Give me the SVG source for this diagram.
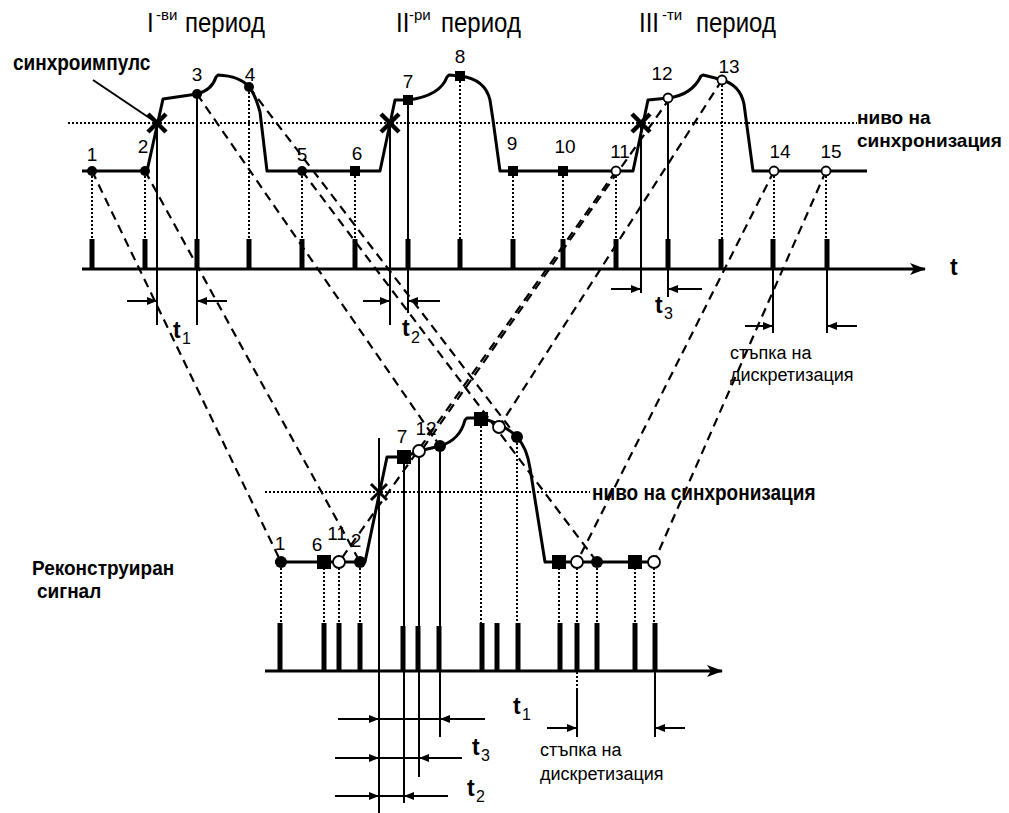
<svg xmlns="http://www.w3.org/2000/svg" width="1009" height="813" viewBox="0 0 1009 813">
<defs>
<style>
text{font-family:"Liberation Sans",Arial,sans-serif;fill:#000}
.num{font-size:19px;text-anchor:middle}
.title{font-size:24px}
.sup{font-size:15px}
.bl{font-size:19px;font-weight:bold}
.tt{font-size:23px;font-weight:bold}
.sub{font-size:16px}
.step{font-size:18px}
.sig{fill:none;stroke:#000;stroke-width:3;stroke-linejoin:round}
.dash{fill:none;stroke:#000;stroke-width:2.2;stroke-dasharray:9 6}
.dot{fill:none;stroke:#000;stroke-width:2;stroke-dasharray:2 2}
.thin{fill:none;stroke:#000;stroke-width:2}
.arr{fill:none;stroke:#000;stroke-width:2;marker-end:url(#ah)}
.pulse{stroke:#000;stroke-width:5}
.axis{stroke:#000;stroke-width:3;fill:none;marker-end:url(#ax)}
.xm{stroke:#000;stroke-width:4.5;fill:none}
.xb{stroke:#000;stroke-width:3;fill:none}
.fc{fill:#000}
.oc{fill:#fff;stroke:#000;stroke-width:1.8}
</style>
<marker id="ah" viewBox="0 0 10 8" refX="10" refY="4" markerWidth="10" markerHeight="8" markerUnits="userSpaceOnUse" orient="auto"><path d="M0,0 L10,4 L0,8 z" fill="#000"/></marker>
<marker id="ax" viewBox="0 0 16 12" refX="15" refY="6" markerWidth="16" markerHeight="12" markerUnits="userSpaceOnUse" orient="auto"><path d="M0,0 L16,6 L0,12 L4,6 z" fill="#000"/></marker>
</defs>
<rect width="1009" height="813" fill="#fff"/>

<g id="titles">
<text class="title" transform="translate(147,32) scale(1,1.15)">I</text><text class="sup" x="156" y="20">-ви</text><text class="title" transform="translate(185,32) scale(1,1.15)">период</text>
<text class="title" transform="translate(396,32) scale(1,1.15)">II</text><text class="sup" x="409" y="20">-ри</text><text class="title" transform="translate(441,32) scale(1,1.15)">период</text>
<text class="title" transform="translate(639,32) scale(1,1.15)">III</text><text class="sup" x="662" y="20">-ти</text><text class="title" transform="translate(696,32) scale(1,1.15)">период</text>
</g>

<g id="sync-label">
<text class="bl" transform="translate(13,70) scale(1,1.2)">синхроимпулс</text>
<line class="thin" x1="93" y1="80" x2="151" y2="119"/>
</g>

<g id="top-level">
<line class="dot" x1="68" y1="123" x2="857" y2="123"/>
<text class="bl" x="857" y="124">ниво на</text>
<text class="bl" x="857" y="147">синхронизация</text>
</g>

<g id="connectors">
<line class="dash" x1="92" y1="171" x2="281" y2="562"/>
<line class="dash" x1="145" y1="171" x2="360" y2="562"/>
<line class="dash" x1="197" y1="94" x2="440" y2="446"/>
<line class="dash" x1="249" y1="87" x2="517" y2="437"/>
<line class="dash" x1="302" y1="171" x2="597" y2="562"/>
<line class="dash" x1="616" y1="171" x2="339" y2="562"/>
<line class="dash" x1="670" y1="98" x2="421" y2="451"/>
<line class="dash" x1="722" y1="80" x2="499" y2="427"/>
<line class="dash" x1="774" y1="171" x2="577" y2="562"/>
<line class="dash" x1="826" y1="171" x2="654" y2="562"/>
</g>

<g id="top-signal">
<path class="sig" d="M82,171 H147 L163,99 L197,94 Q212,90 216,77 L218,75 Q240,76 249,87 Q255,94 260,112 L267,171 H380 L395,100 H408 Q440,96 447,77 L449,75 L460,76 Q485,79 490,100 L493,120 L500,171 H633 L648,100 L668,98 Q692,95 701,76 L703,75 Q712,77 722,80 Q740,85 744,104 L753,171 H867"/>
<path class="xm" d="M148,114 L166,132 M148,132 L166,114"/>
<path class="xm" d="M381,114 L399,132 M381,132 L399,114"/>
<path class="xm" d="M632,114 L650,132 M632,132 L650,114"/>
</g>

<g id="top-samples">
<g class="dot">
<line x1="92" y1="176" x2="92" y2="239"/>
<line x1="145" y1="176" x2="145" y2="239"/>
<line x1="249" y1="92" x2="249" y2="239"/>
<line x1="302" y1="176" x2="302" y2="239"/>
<line x1="355" y1="176" x2="355" y2="239"/>
<line x1="460" y1="81" x2="460" y2="239"/>
<line x1="513" y1="176" x2="513" y2="239"/>
<line x1="563" y1="176" x2="563" y2="239"/>
<line x1="616" y1="176" x2="616" y2="239"/>
<line x1="722" y1="85" x2="722" y2="239"/>
<line x1="774" y1="176" x2="774" y2="239"/>
<line x1="826" y1="176" x2="826" y2="239"/>
</g>
<g class="pulse">
<line x1="92" y1="239" x2="92" y2="270"/>
<line x1="145" y1="239" x2="145" y2="270"/>
<line x1="197" y1="239" x2="197" y2="270"/>
<line x1="249" y1="239" x2="249" y2="270"/>
<line x1="302" y1="239" x2="302" y2="270"/>
<line x1="355" y1="239" x2="355" y2="270"/>
<line x1="408" y1="239" x2="408" y2="270"/>
<line x1="460" y1="239" x2="460" y2="270"/>
<line x1="513" y1="239" x2="513" y2="270"/>
<line x1="563" y1="239" x2="563" y2="270"/>
<line x1="616" y1="239" x2="616" y2="270"/>
<line x1="668" y1="239" x2="668" y2="270"/>
<line x1="721" y1="239" x2="721" y2="270"/>
<line x1="773" y1="239" x2="773" y2="270"/>
<line x1="827" y1="239" x2="827" y2="270"/>
</g>
<line class="axis" x1="82" y1="269" x2="925" y2="269"/>
<text class="tt" x="950" y="275">t</text>
<g class="thin">
<line x1="157" y1="123" x2="157" y2="325"/>
<line x1="197" y1="94" x2="197" y2="325"/>
<line x1="390" y1="123" x2="390" y2="325"/>
<line x1="408" y1="100" x2="408" y2="313"/>
<line x1="641" y1="123" x2="641" y2="293"/>
<line x1="668" y1="98" x2="668" y2="297"/>
<line x1="773" y1="269" x2="773" y2="333"/>
<line x1="827" y1="269" x2="827" y2="333"/>
</g>
<line class="arr" x1="127" y1="301" x2="157" y2="301"/>
<line class="arr" x1="227" y1="301" x2="197" y2="301"/>
<line class="arr" x1="363" y1="301" x2="390" y2="301"/>
<line class="arr" x1="440" y1="301" x2="408" y2="301"/>
<line class="arr" x1="611" y1="289" x2="641" y2="289"/>
<line class="arr" x1="702" y1="289" x2="668" y2="289"/>
<line class="arr" x1="745" y1="326" x2="773" y2="326"/>
<line class="arr" x1="857" y1="326" x2="827" y2="326"/>
<text class="tt" x="173" y="338">t</text><text class="sub" x="182" y="344">1</text>
<text class="tt" x="402" y="336">t</text><text class="sub" x="411" y="343">2</text>
<text class="tt" x="655" y="313">t</text><text class="sub" x="664" y="319">3</text>
<text class="step" x="730" y="359">стъпка на</text>
<text class="step" x="730" y="381">дискретизация</text>
</g>

<g id="top-points">
<circle class="fc" cx="92" cy="171" r="5"/>
<circle class="fc" cx="145" cy="171" r="5"/>
<circle class="fc" cx="197" cy="94" r="5"/>
<circle class="fc" cx="249" cy="87" r="5"/>
<circle class="fc" cx="302" cy="171" r="5"/>
<rect class="fc" x="350" y="166" width="10" height="10"/>
<rect class="fc" x="403" y="95" width="10" height="10"/>
<rect class="fc" x="455" y="71" width="10" height="10"/>
<rect class="fc" x="508" y="166" width="10" height="10"/>
<rect class="fc" x="558" y="166" width="10" height="10"/>
<circle class="oc" cx="616" cy="171" r="4.5"/>
<circle class="oc" cx="668" cy="98" r="4.5"/>
<circle class="oc" cx="722" cy="80" r="4.5"/>
<circle class="oc" cx="774" cy="171" r="4.5"/>
<circle class="oc" cx="826" cy="171" r="4.5"/>
<text class="num" x="92" y="161">1</text>
<text class="num" x="143" y="153">2</text>
<text class="num" x="197" y="81">3</text>
<text class="num" x="250" y="81">4</text>
<text class="num" x="302" y="161">5</text>
<text class="num" x="357" y="160">6</text>
<text class="num" x="408" y="88">7</text>
<text class="num" x="460" y="63">8</text>
<text class="num" x="512" y="150">9</text>
<text class="num" x="565" y="153">10</text>
<text class="num" x="620" y="158">11</text>
<text class="num" x="662" y="80">12</text>
<text class="num" x="729" y="73">13</text>
<text class="num" x="780" y="158">14</text>
<text class="num" x="831" y="158">15</text>
</g>

<g id="bottom-level">
<line class="dot" x1="265" y1="492" x2="590" y2="492"/>
<text class="bl" transform="translate(592,500) scale(1,1.2)">ниво на синхронизация</text>
</g>

<g id="recon-label">
<text class="bl" transform="translate(32,575) scale(1,1.08)">Реконструиран</text>
<text class="bl" transform="translate(37,598) scale(1,1.08)">сигнал</text>
</g>

<g id="bottom-signal">
<path class="sig" d="M275,562 H365 L387,457 H404 L419,451 L440,446 Q460,440 465,420 L467,418 H481 Q506,425 517,437 Q527,448 530,468 L545,562 H657"/>
<path class="xb" d="M371,484 L387,500 M371,500 L387,484"/>
</g>

<g id="bottom-samples">
<g class="dot">
<line x1="281" y1="568" x2="281" y2="623"/>
<line x1="324" y1="568" x2="324" y2="623"/>
<line x1="339" y1="568" x2="339" y2="623"/>
<line x1="360" y1="568" x2="360" y2="623"/>
<line x1="481" y1="426" x2="481" y2="623"/>
<line x1="517" y1="443" x2="517" y2="623"/>
<line x1="559" y1="568" x2="559" y2="623"/>
<line x1="577" y1="568" x2="577" y2="690"/>
<line x1="597" y1="568" x2="597" y2="623"/>
<line x1="635" y1="568" x2="635" y2="623"/>
<line x1="654" y1="568" x2="654" y2="623"/>
</g>
<g class="pulse">
<line x1="280" y1="623" x2="280" y2="671"/>
<line x1="324" y1="623" x2="324" y2="671"/>
<line x1="339" y1="623" x2="339" y2="671"/>
<line x1="360" y1="623" x2="360" y2="671"/>
<line x1="403" y1="626" x2="403" y2="671"/>
<line x1="418" y1="626" x2="418" y2="671"/>
<line x1="439" y1="626" x2="439" y2="671"/>
<line x1="482" y1="623" x2="482" y2="671"/>
<line x1="497" y1="623" x2="497" y2="671"/>
<line x1="518" y1="623" x2="518" y2="671"/>
<line x1="560" y1="623" x2="560" y2="671"/>
<line x1="577" y1="623" x2="577" y2="671"/>
<line x1="597" y1="623" x2="597" y2="671"/>
<line x1="635" y1="623" x2="635" y2="671"/>
<line x1="655" y1="623" x2="655" y2="671"/>
</g>
<line class="axis" x1="265" y1="671" x2="722" y2="671"/>
<g class="thin">
<line x1="379" y1="438" x2="379" y2="813"/>
<line x1="404" y1="457" x2="404" y2="803"/>
<line x1="419" y1="451" x2="419" y2="777"/>
<line x1="440" y1="446" x2="440" y2="737"/>
<line x1="577" y1="690" x2="577" y2="737"/>
<line x1="655" y1="671" x2="655" y2="737"/>
<line x1="379" y1="719" x2="440" y2="719"/>
<line x1="379" y1="758" x2="419" y2="758"/>
<line x1="379" y1="796" x2="404" y2="796"/>
</g>
<line class="arr" x1="338" y1="719" x2="379" y2="719"/>
<line class="arr" x1="485" y1="719" x2="440" y2="719"/>
<line class="arr" x1="335" y1="758" x2="379" y2="758"/>
<line class="arr" x1="462" y1="758" x2="419" y2="758"/>
<line class="arr" x1="335" y1="796" x2="379" y2="796"/>
<line class="arr" x1="448" y1="796" x2="404" y2="796"/>
<line class="arr" x1="547" y1="728" x2="577" y2="728"/>
<line class="arr" x1="685" y1="728" x2="655" y2="728"/>
<text class="tt" x="513" y="714">t</text><text class="sub" x="522" y="720">1</text>
<text class="tt" x="472" y="755">t</text><text class="sub" x="481" y="761">3</text>
<text class="tt" x="467" y="796">t</text><text class="sub" x="476" y="802">2</text>
<text class="step" x="540" y="756">стъпка на</text>
<text class="step" x="540" y="780">дискретизация</text>
</g>

<g id="bottom-points">
<circle class="fc" cx="281" cy="562" r="6"/>
<circle class="fc" cx="360" cy="562" r="6"/>
<circle class="fc" cx="440" cy="446" r="6"/>
<circle class="fc" cx="517" cy="437" r="6"/>
<circle class="fc" cx="597" cy="562" r="6"/>
<rect class="fc" x="317" y="555" width="14" height="14"/>
<rect class="fc" x="397" y="450" width="14" height="14"/>
<rect class="fc" x="474" y="412" width="14" height="14"/>
<rect class="fc" x="552" y="555" width="14" height="14"/>
<rect class="fc" x="628" y="555" width="14" height="14"/>
<circle class="oc" cx="339" cy="562" r="6"/>
<circle class="oc" cx="419" cy="451" r="6"/>
<circle class="oc" cx="499" cy="427" r="6"/>
<circle class="oc" cx="577" cy="562" r="6"/>
<circle class="oc" cx="654" cy="562" r="6"/>
<text class="num" x="280" y="550">1</text>
<text class="num" x="317" y="551">6</text>
<text class="num" x="337" y="540">11</text>
<text class="num" x="356" y="547">2</text>
<text class="num" x="402" y="443">7</text>
<text class="num" x="426" y="435">12</text>
</g>
</svg>
